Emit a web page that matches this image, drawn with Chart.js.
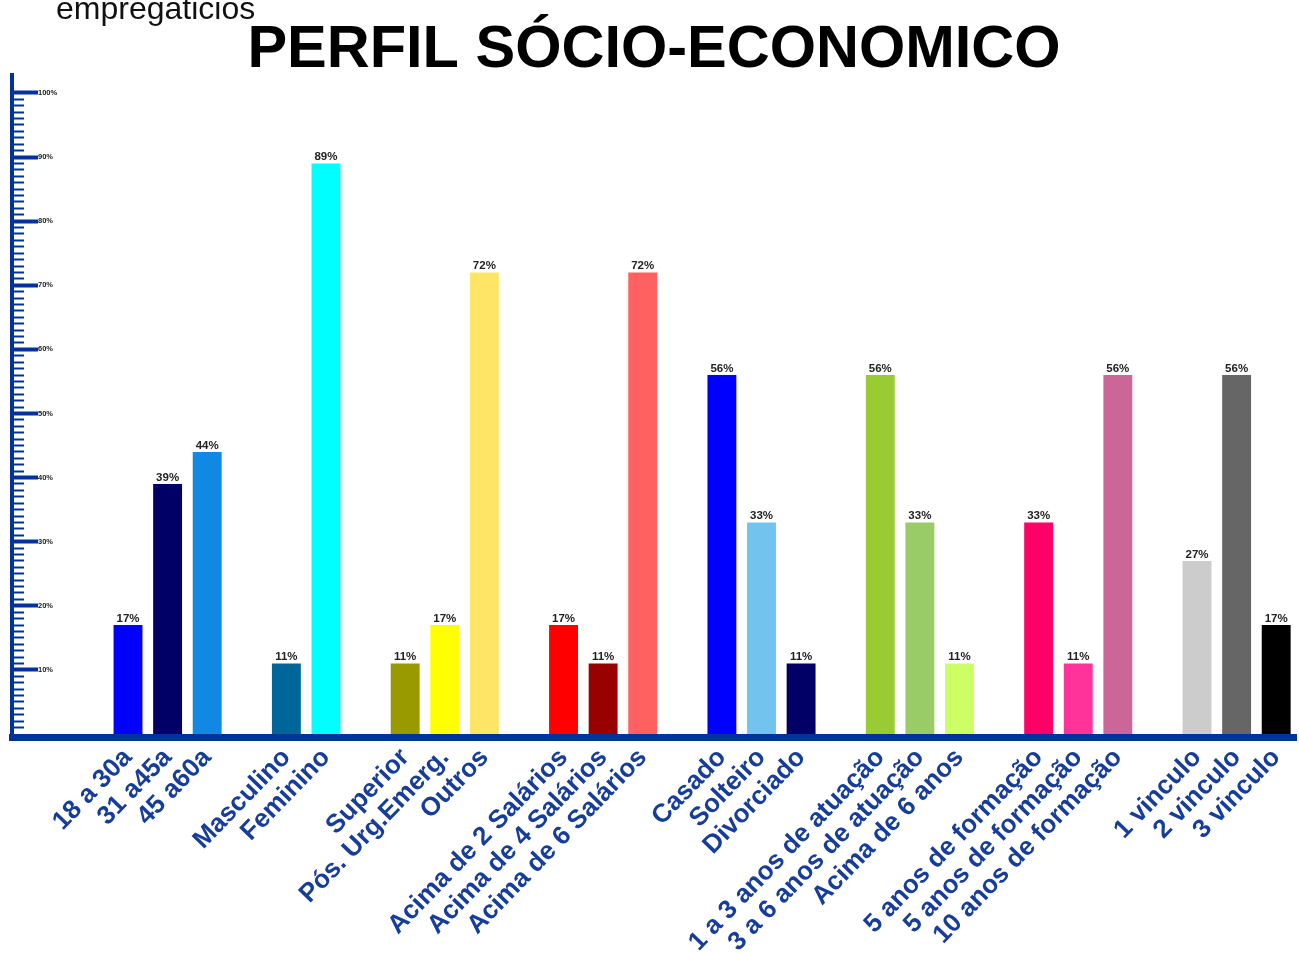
<!DOCTYPE html>
<html lang="pt-BR">
<head>
  <meta charset="UTF-8">
  <title>Perfil sócio-econômico</title>
  <style>
    body { margin: 0; background: #fff; overflow: hidden; }
    #quadro { position: relative; width: 1299px; height: 953px; }
    #sobra {
      position: absolute; left: 56px; top: -8px;
      font: 32px/32px "Liberation Sans", Arial, sans-serif; color: #111;
    }
  </style>
</head>
<body>
<div id="quadro">
  <canvas id="perfil"></canvas>
  <div id="sobra">empregaticios</div>
</div>

<script src="https://cdn.jsdelivr.net/npm/chart.js"></script>
<script>
  // one slot per bar, '' marks the blank slot between groups
  const categories = [
    '18 a 30a', '31 a45a', '45 a60a', '',
    'Masculino', 'Feminino', '',
    'Superior', 'Pós. Urg.Emerg.', 'Outros', '',
    'Acima de 2 Salários', 'Acima de 4 Salários', 'Acima de 6 Salários', '',
    'Casado', 'Solteiro', 'Divorciado', '',
    '1 a 3 anos de atuação', '3 a 6 anos de atuação', 'Acima de 6 anos', '',
    '5 anos de formação', '5 anos de formação', '10 anos de formação', '',
    '1 vinculo', '2 vinculo', '3 vinculo'
  ];
  const values = [
    17, 39, 44, null,
    11, 89, null,
    11, 17, 72, null,
    17, 11, 72, null,
    56, 33, 11, null,
    56, 33, 11, null,
    33, 11, 56, null,
    27, 56, 17
  ];
  const barColors = [
    '#0000ff', '#000066', '#1188e4', null,
    '#006699', '#00ffff', null,
    '#999900', '#ffff00', '#ffe566', null,
    '#ff0000', '#990000', '#ff6060', null,
    '#0000ff', '#72c4ee', '#000066', null,
    '#99cc33', '#99cc66', '#ccff66', null,
    '#ff0066', '#ff3399', '#cc6699', null,
    '#cccccc', '#666666', '#000000'
  ];
  const yTicks = [0, 10, 20, 30, 40, 50, 60, 70, 80, 90, 100];

  const FONT = '"Liberation Sans", Arial, sans-serif';
  const AXIS_BLUE = '#003399';

  // percentage written above each bar
  const percentLabels = {
    id: 'percentLabels',
    afterDatasetsDraw(chart) {
      const ctx = chart.ctx;
      const meta = chart.getDatasetMeta(0);
      ctx.save();
      ctx.font = 'bold 11.5px ' + FONT;
      ctx.fillStyle = '#222';
      ctx.textAlign = 'center';
      ctx.textBaseline = 'alphabetic';
      meta.data.forEach(function (bar, i) {
        if (values[i] == null) return;
        ctx.fillText(values[i] + '%', bar.x, bar.y - 3);
      });
      ctx.restore();
    }
  };

  const isMajor = function (v) { return yTicks.indexOf(Math.round(v)) >= 0; };

  new Chart(document.getElementById('perfil'), {
    type: 'bar',
    data: {
      datasets: [{
        data: categories.map(function (c, i) { return { x: i, y: values[i] }; }),
        backgroundColor: barColors.map(function (c) { return c || 'rgba(0,0,0,0)'; }),
        categoryPercentage: 1,
        barPercentage: 0.73
      }]
    },
    options: {
      responsive: true,
      maintainAspectRatio: false,
      animation: false,
      layout: { padding: { left: 12, right: 3, top: 0, bottom: 0 } },
      plugins: {
        legend: { display: false },
        tooltip: { enabled: false },
        title: {
          display: true,
          text: 'PERFIL SÓCIO-ECONOMICO',
          color: '#000',
          font: { family: FONT, size: 59.5, weight: 'bold', lineHeight: 1.2 },
          padding: { top: 15, bottom: -11.4 }
        }
      },
      scales: {
        x: {
          type: 'linear',
          offset: false,
          bounds: 'data',
          min: -2.93,
          max: 29.5,
          afterBuildTicks: function (scale) {
            scale.ticks = categories.map(function (c, i) { return { value: i }; });
          },
          afterFit: function (scale) {
            scale.height = 215.5;
            scale.paddingLeft = 0;
            scale.paddingRight = 0;
          },
          grid: { display: false, drawTicks: false },
          border: { display: true, color: AXIS_BLUE, width: 7 },
          ticks: {
            autoSkip: false,
            minRotation: 46,
            maxRotation: 46,
            padding: 5,
            color: '#163d9a',
            font: { family: FONT, size: 26, weight: 'bold' },
            callback: function (v) { return categories[v] || ''; }
          }
        },
        y: {
          min: -0.55,
          max: 102.8,
          afterBuildTicks: function (scale) {
            scale.ticks = scale.ticks.filter(function (t) {
              return t.value >= 0 && t.value <= 100 && Math.abs(t.value - Math.round(t.value)) < 1e-6;
            });
          },
          // the ruler marks and labels sit inside the plot, so the axis box takes no room
          afterFit: function (scale) {
            scale.width = 0;
            scale.paddingTop = 0;
            scale.paddingBottom = 0;
          },
          border: { display: true, color: AXIS_BLUE, width: 4 },
          grid: {
            drawOnChartArea: false,
            drawTicks: true,
            tickLength: -26,
            tickColor: AXIS_BLUE,
            tickWidth: function (ctx) { return isMajor(ctx.tick.value) ? 4 : 2; },
            // minor marks only show the part next to the axis line
            tickBorderDash: function (ctx) { return isMajor(ctx.tick.value) ? [] : [0, 14, 60]; }
          },
          ticks: {
            stepSize: 1,
            autoSkip: false,
            mirror: true,
            padding: 26,
            color: '#1a1a1a',
            font: { family: FONT, size: 7.5, weight: 'bold' },
            callback: function (v) { return (v > 0 && isMajor(v)) ? Math.round(v) + '%' : ''; }
          }
        }
      }
    },
    plugins: [percentLabels]
  });
</script>
</body>
</html>
